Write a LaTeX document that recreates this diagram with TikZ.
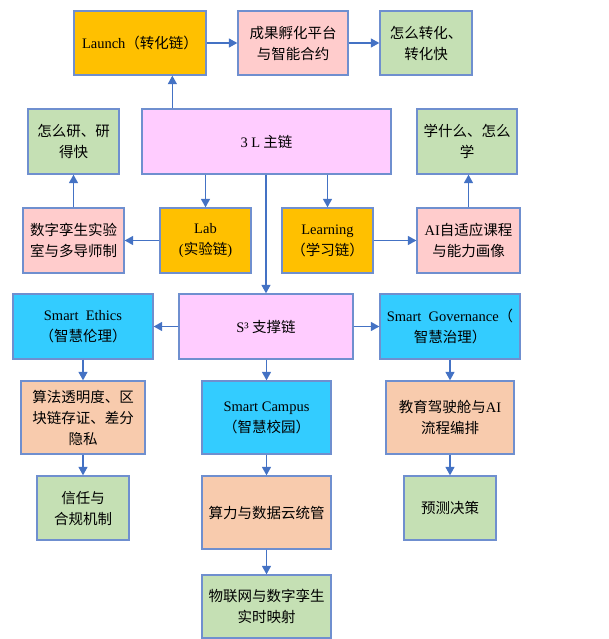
\documentclass[tikz,border=0pt]{standalone}
\usepackage{fontspec}
\setmainfont{Liberation Serif}
\newfontfamily\cjk{Noto Sans CJK SC}
\usepackage{tikz}
\usetikzlibrary{arrows.meta}

\definecolor{rahmen}{HTML}{6F8FCF}
\definecolor{pfeil}{HTML}{4472C4}
\definecolor{orange}{HTML}{FFC000}
\definecolor{rosa}{HTML}{FFCCCC}
\definecolor{gruen}{HTML}{C5E0B4}
\definecolor{violett}{HTML}{FFCCFF}
\definecolor{cyan}{HTML}{33CCFF}
\definecolor{pfirsich}{HTML}{F8CBAD}

\newcommand\lat[1]{{\rmfamily #1}}

\begin{document}
\begin{tikzpicture}[x=1pt, y=-1pt,
        box/.style={draw=rahmen, line width=1.3pt, align=center, inner sep=0pt,
            font={\fontsize{14.5}{21}\selectfont\cjk}},
        >={Triangle[length=8.5pt,width=9pt]} % Pfeilspitzen
        ]
    \useasboundingbox (0,0) rectangle (609,639);
    \tikzset{arr/.style={->, draw=pfeil, fill=pfeil, line width=1.3pt}}

    % Kette oben
    \node[box, fill=orange, minimum width=132pt, minimum height=64pt] (launch) at (140,43) {\lat{Launch}（转化链）};
    \node[box, fill=rosa, minimum width=110pt, minimum height=64pt] (incub) at (293,43) {成果孵化平台\\与智能合约};
    \node[box, fill=gruen, minimum width=92pt, minimum height=64pt] (trans) at (426,43) {怎么转化、\\转化快};

    % 3L Hauptkette
    \node[box, fill=gruen, minimum width=91pt, minimum height=65pt] (yan) at (73.5,141.5) {怎么研、研\\得快};
    \node[box, fill=violett, minimum width=249pt, minimum height=65pt] (main) at (266.5,141.5) {\lat{3 L} 主链};
    \node[box, fill=gruen, minimum width=100pt, minimum height=65pt] (xue) at (467,141.5) {学什么、怎么\\学};

    \node[box, fill=rosa, minimum width=101pt, minimum height=65pt] (twin) at (73.5,240.5) {数字孪生实验\\室与多导师制};
    \node[box, fill=orange, minimum width=91pt, minimum height=65pt] (lab) at (205.5,240.5) {\lat{Lab}\\\lat{(}实验链\lat{)}};
    \node[box, fill=orange, minimum width=91pt, minimum height=65pt] (learn) at (327.5,240.5) {\lat{Learning}\\（学习链）};
    \node[box, fill=rosa, minimum width=103pt, minimum height=65pt] (adapt) at (468.5,240.5) {\lat{AI}自适应课程\\与能力画像};

    % S3 Stuetzkette
    \node[box, fill=cyan, minimum width=140pt, minimum height=65pt] (ethics) at (83,326.5) {\lat{Smart\ \ Ethics}\\（智慧伦理）};
    \node[box, fill=violett, minimum width=174pt, minimum height=65pt] (s3) at (266,326.5) {\lat{S³} 支撑链};
    \node[box, fill=cyan, minimum width=140pt, minimum height=65pt] (gov) at (450,326.5) {\lat{Smart\ \ Governance}（\\智慧治理）};

    \node[box, fill=pfirsich, minimum width=124pt, minimum height=73pt] (algo) at (83,417.5) {算法透明度、区\\块链存证、差分\\隐私};
    \node[box, fill=cyan, minimum width=129pt, minimum height=73pt] (campus) at (266.5,417.5) {\lat{Smart Campus}\\（智慧校园）};
    \node[box, fill=pfirsich, minimum width=128pt, minimum height=73pt] (cockpit) at (450,417.5) {教育驾驶舱与\lat{AI}\\流程编排};

    \node[box, fill=gruen, minimum width=92pt, minimum height=64pt] (trust) at (83,508) {信任与\\合规机制};
    \node[box, fill=pfirsich, minimum width=129pt, minimum height=73pt] (cloud) at (266.5,512.5) {算力与数据云统管};
    \node[box, fill=gruen, minimum width=92pt, minimum height=64pt] (predict) at (450,508) {预测决策};
    \node[box, fill=gruen, minimum width=129pt, minimum height=63pt] (iot) at (266.5,606.5) {物联网与数字孪生\\实时映射};

    % Pfeile
    \draw[arr] ([xshift=31pt]main.north west) -- ([xshift=31pt]main.north west |- launch.south);
    \draw[arr] (launch) -- (incub);
    \draw[arr] (incub) -- (trans);
    \draw[arr] (main.south -| lab.north) -- (lab.north);
    \draw[arr] (main.south -| learn.north) -- (learn.north);
    \draw[arr] (s3.north |- main.south) -- (s3.north);
    \draw[arr] (lab) -- (twin);
    \draw[arr] (twin) -- (yan);
    \draw[arr] (learn) -- (adapt);
    \draw[arr] (adapt.north) -- (adapt.north |- xue.south);
    \draw[arr] (s3) -- (ethics);
    \draw[arr] (s3) -- (gov);
    \draw[arr] (s3.south -| campus.north) -- (campus.north);
    \draw[arr] (ethics) -- (algo);
    \draw[arr] (algo) -- (trust);
    \draw[arr] (campus) -- (cloud);
    \draw[arr] (cloud) -- (iot);
    \draw[arr] (gov) -- (cockpit);
    \draw[arr] (cockpit) -- (predict);

\end{tikzpicture}
\end{document}
